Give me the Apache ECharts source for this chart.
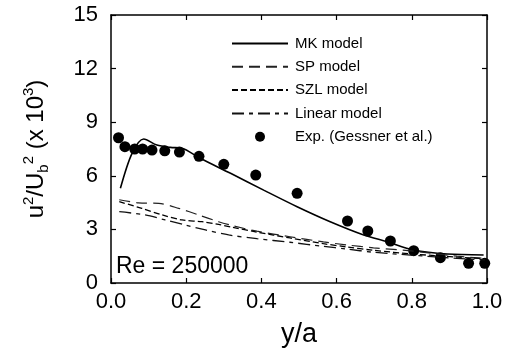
<!DOCTYPE html>
<html><head><meta charset="utf-8">
<script src="https://cdn.jsdelivr.net/npm/echarts@6/dist/echarts.min.js"></script>
<style>html,body{margin:0;padding:0;background:#fff}#c{width:506px;height:356px}</style>
</head><body><div id="c"></div>
<script>
var xTicks = [0.0, 0.2, 0.4, 0.6, 0.8, 1.0];
var yTicks = [0, 3, 6, 9, 12, 15];
var mkX = [0.025, 0.056, 0.087, 0.122, 0.158, 0.189, 0.237, 0.318, 0.406, 0.495, 0.583, 0.672, 0.734, 0.805, 0.894, 0.991];
var mkY = [5.30, 7.26, 8.06, 7.72, 7.59, 7.54, 6.98, 6.14, 5.20, 4.27, 3.43, 2.69, 2.31, 1.85, 1.62, 1.57];
var spX = [0.022, 0.073, 0.127, 0.18, 0.233, 0.286, 0.322, 0.388, 0.476, 0.565, 0.627, 0.698, 0.805, 0.92, 0.995];
var spY = [4.66, 4.49, 4.46, 4.18, 3.81, 3.43, 3.22, 2.90, 2.59, 2.30, 2.13, 1.97, 1.78, 1.50, 1.38];
var szlX = [0.022, 0.082, 0.136, 0.189, 0.242, 0.286, 0.322, 0.388, 0.476, 0.565, 0.627, 0.698, 0.805, 0.92, 0.995];
var szlY = [4.55, 4.18, 3.81, 3.53, 3.43, 3.28, 3.12, 2.85, 2.52, 2.20, 2.02, 1.83, 1.62, 1.45, 1.36];
var linX = [0.022, 0.091, 0.144, 0.197, 0.251, 0.313, 0.388, 0.476, 0.565, 0.627, 0.698, 0.805, 0.92, 0.995];
var linY = [3.99, 3.81, 3.53, 3.25, 2.97, 2.69, 2.48, 2.28, 2.05, 1.90, 1.72, 1.55, 1.38, 1.30];
var expX = [0.020, 0.037, 0.063, 0.084, 0.109, 0.143, 0.182, 0.234, 0.300, 0.385, 0.495, 0.629, 0.683, 0.743, 0.805, 0.876, 0.951, 0.994];
var expY = [8.13, 7.63, 7.50, 7.50, 7.44, 7.40, 7.33, 7.09, 6.64, 6.04, 5.02, 3.47, 2.91, 2.35, 1.81, 1.42, 1.10, 1.10];
var seriesNames = ['MK model', 'SP model', 'SZL model', 'Linear model', 'Exp. (Gessner et al.)'];
var annotation = 'Re = 250000';
var xTitle = 'y/a';

function pairs(xs, ys) { return xs.map(function (x, i) { return [x, ys[i]]; }); }

var chart = echarts.init(document.getElementById('c'));
var F = 'Liberation Sans, Arial, Helvetica, sans-serif';
var axisCommon = {
  type: 'value',
  axisLine: { show: true, onZero: false, lineStyle: { color: '#000', width: 1.5 } },
  axisTick: { show: true, inside: true, length: 5, lineStyle: { color: '#000', width: 1.2 } },
  splitLine: { show: false }
};
chart.setOption({
  animation: false,
  grid: { left: 111, right: 19, top: 15, bottom: 73 },
  xAxis: [
    Object.assign({}, axisCommon, {
      min: 0, max: 1, interval: 0.2, position: 'bottom',
      axisLabel: { margin: 8, fontSize: 22, color: '#000', fontFamily: F,
        formatter: function (v) { return v.toFixed(1); } },
      name: xTitle, nameLocation: 'middle', nameGap: 38,
      nameTextStyle: { fontSize: 27, color: '#000', fontFamily: F }
    }),
    Object.assign({}, axisCommon, {
      min: 0, max: 1, interval: 0.2, position: 'top', axisLabel: { show: false }
    })
  ],
  yAxis: [
    Object.assign({}, axisCommon, {
      min: 0, max: 15, interval: 3, position: 'left',
      axisLabel: { margin: 13, fontSize: 22, color: '#000', fontFamily: F },
      name: '{m|u}{sp|2}{m|/U}{sb|b}{sp|2}{m| (x 10}{sp|3}{m|)}',
      nameLocation: 'middle', nameGap: 60, nameRotate: 90,
      nameTextStyle: {
        color: '#000', fontFamily: F,
        rich: {
          m: { fontSize: 24, lineHeight: 30, fontFamily: F, color: '#000' },
          sp: { fontSize: 15, lineHeight: 15, verticalAlign: 'top', fontFamily: F, color: '#000' },
          sb: { fontSize: 15, lineHeight: 15, verticalAlign: 'bottom', fontFamily: F, color: '#000' }
        }
      }
    }),
    Object.assign({}, axisCommon, {
      min: 0, max: 15, interval: 3, position: 'right', axisLabel: { show: false }
    })
  ],
  legend: {
    orient: 'vertical', left: 231, top: 36, padding: 0,
    itemWidth: 56, itemHeight: 10, itemGap: 8.3,
    textStyle: { fontSize: 15, color: '#000', fontFamily: F, padding: [0, 0, 0, 2] },
    data: [
      { name: seriesNames[0], itemStyle: { opacity: 0 } },
      { name: seriesNames[1], itemStyle: { opacity: 0 } },
      { name: seriesNames[2], itemStyle: { opacity: 0 } },
      { name: seriesNames[3], itemStyle: { opacity: 0 } },
      { name: seriesNames[4] }
    ]
  },
  graphic: [{
    type: 'text', left: 116, top: 255,
    style: { text: annotation, fontSize: 23, fill: '#000', fontFamily: F }
  }],
  series: [
    { name: seriesNames[0], type: 'line', data: pairs(mkX, mkY), symbol: 'none', smooth: 0.3,
      lineStyle: { color: '#000', width: 1.6, type: 'solid' }, itemStyle: { color: '#000' } },
    { name: seriesNames[1], type: 'line', data: pairs(spX, spY), symbol: 'none', smooth: 0.3,
      lineStyle: { color: '#222', width: 1.2, type: [11, 6] }, itemStyle: { color: '#222' } },
    { name: seriesNames[2], type: 'line', data: pairs(szlX, szlY), symbol: 'none', smooth: 0.3,
      lineStyle: { color: '#000', width: 1.3, type: [6, 3] }, itemStyle: { color: '#000' } },
    { name: seriesNames[3], type: 'line', data: pairs(linX, linY), symbol: 'none', smooth: 0.3,
      lineStyle: { color: '#111', width: 1.3, type: [12, 5, 4, 5] }, itemStyle: { color: '#111' } },
    { name: seriesNames[4], type: 'scatter', data: pairs(expX, expY), symbol: 'circle', symbolSize: 11,
      itemStyle: { color: '#000', opacity: 1 } }
  ]
});
</script></body></html>
